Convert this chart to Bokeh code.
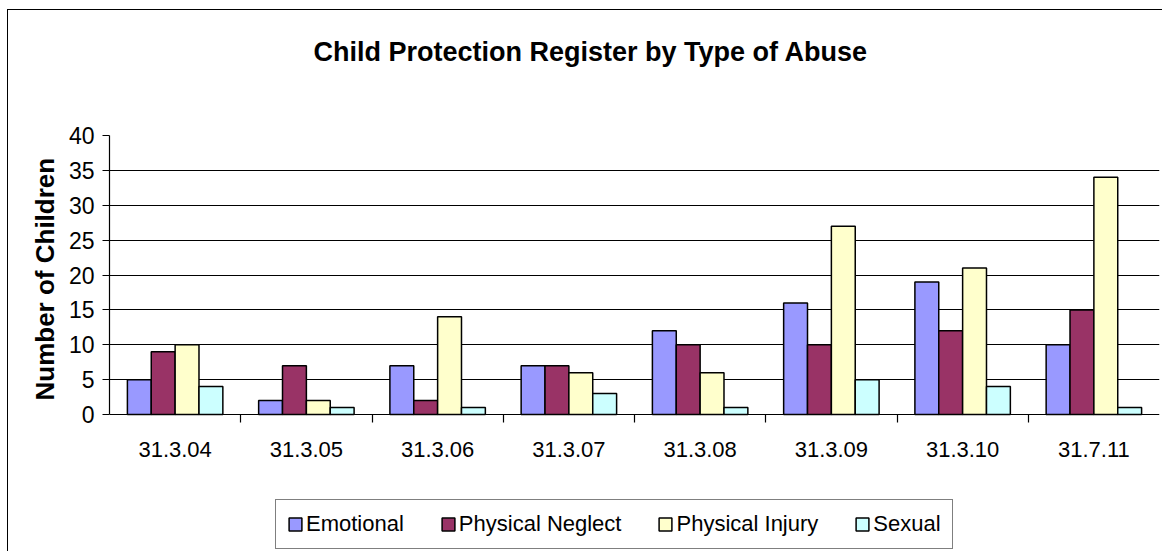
from bokeh.plotting import figure
from bokeh.models import (ColumnDataSource, Range1d, FixedTicker, Legend, LegendItem,
                          Grid, Title)
from bokeh.core.properties import value
from bokeh.transform import dodge
from bokeh.embed import file_html
from bokeh.resources import INLINE

categories = ["31.3.04", "31.3.05", "31.3.06", "31.3.07", "31.3.08", "31.3.09", "31.3.10", "31.7.11"]
emotional = [5, 2, 7, 7, 12, 16, 19, 10]
physical_neglect = [9, 7, 2, 7, 10, 10, 12, 15]
physical_injury = [10, 2, 14, 6, 6, 27, 21, 34]
sexual = [4, 1, 1, 3, 1, 5, 4, 1]
series_names = ["Emotional", "Physical Neglect", "Physical Injury", "Sexual"]
series_keys = ["emotional", "neglect", "injury", "sexual"]
colors = ["#9999FF", "#993366", "#FFFFCC", "#CCFFFF"]
y_ticks = [0, 5, 10, 15, 20, 25, 30, 35, 40]
Y_MAX = 40

SANS = "Liberation Sans"

# layout (pixels)
W, H = 1162, 551
PLOT_TOP, PLOT_BOTTOM = 135, 414          # value axis 40 .. 0
PX_PER_UNIT = (PLOT_BOTTOM - PLOT_TOP) / Y_MAX
y_low = -(H - PLOT_BOTTOM) / PX_PER_UNIT  # frame extends down to hold labels + legend
TICK_LEN = 8 / PX_PER_UNIT

n = len(categories)
src = ColumnDataSource(dict(
    x=[i + 0.5 for i in range(n)],
    cat=categories,
    emotional=emotional,
    neglect=physical_neglect,
    injury=physical_injury,
    sexual=sexual,
))

p = figure(width=W, height=H,
           x_range=Range1d(0, n), y_range=Range1d(y_low, Y_MAX),
           x_axis_location=None,
           output_backend="svg", toolbar_location=None,
           min_border_left=109, min_border_right=3,
           min_border_top=PLOT_TOP, min_border_bottom=0)
p.background_fill_color = "white"
p.border_fill_color = "white"
p.border_fill_alpha = 0
p.outline_line_color = None
p.styles = {
    "background": ("linear-gradient(#000, #000) 7px 9px / 1px 100% no-repeat, "
                   "linear-gradient(#000, #000) 7px 9px / 100% 1px no-repeat, white"),
}

# Title
p.title.text = "Child Protection Register by Type of Abuse\n"
p.title.align = "left"
p.title.offset = 204
p.title.standoff = 54
p.title.text_line_height = 1.4
p.title.text_font = SANS
p.title.text_font_style = "bold"
p.title.text_font_size = "27px"
p.title.text_color = "black"

# Grid lines (value axis) and top border of the plot area
for g in p.xgrid:
    g.visible = False
p.ygrid.ticker = FixedTicker(ticks=y_ticks[:-1])
p.ygrid.grid_line_color = "black"
p.ygrid.grid_line_width = 1.2
p.add_layout(Grid(dimension=1, ticker=FixedTicker(ticks=[Y_MAX]),
                  grid_line_color="#999999", grid_line_width=2))

# right border of the plot area and category separator ticks
boundaries = list(range(n + 1))
if "cross_bounds" in Grid.properties():
    p.add_layout(Grid(dimension=0, ticker=FixedTicker(ticks=[n]), cross_bounds=(0, Y_MAX),
                      grid_line_color="#999999", grid_line_width=2))
    p.add_layout(Grid(dimension=0, ticker=FixedTicker(ticks=boundaries),
                      cross_bounds=(-TICK_LEN, 0), grid_line_color="black",
                      grid_line_width=1.2))
else:
    p.segment(x0=[n], y0=[0], x1=[n], y1=[Y_MAX], line_color="#999999", line_width=2)
    p.segment(x0=boundaries, y0=[0] * len(boundaries), x1=boundaries,
              y1=[-TICK_LEN] * len(boundaries), line_color="black", line_width=1.2)

# Bars
group = 4 / 5.5  # fraction of each category taken by the bar group
bw = group / 4
renderers = []
for k, (key, name, col) in enumerate(zip(series_keys, series_names, colors)):
    off = (k - 1.5) * bw
    r = p.vbar(x=dodge("x", off, range=p.x_range), top=key, width=bw, source=src,
               fill_color=col, line_color="black", line_width=1.5)
    renderers.append((name, r))

# Category labels
p.text(x="x", y=0, text="cat", source=src, text_align="center", text_baseline="top",
       y_offset=27, text_font=value(SANS), text_font_size=value("22px"),
       text_color="black")

# Value axis
ya = p.yaxis[0]
ya.bounds = (0, Y_MAX)
ya.ticker = FixedTicker(ticks=y_ticks, minor_ticks=[])
ya.major_tick_out = 7
ya.major_tick_in = 0
ya.minor_tick_out = 0
ya.minor_tick_in = 0
ya.axis_line_color = "black"
ya.axis_line_width = 1.2
ya.major_tick_line_color = "black"
ya.major_label_standoff = 8
ya.major_label_text_font = SANS
ya.major_label_text_font_size = "23px"
ya.major_label_text_color = "black"

ytitle = Title(text="Number of Children", align="left", offset=H - 400, standoff=11,
               text_font=SANS, text_font_style="bold", text_font_size="26px",
               text_color="black")
p.add_layout(ytitle, "left")

# Legend
legend = Legend(items=[LegendItem(label=nm, renderers=[r]) for nm, r in renderers],
                orientation="horizontal", location=(166, 2))
legend.glyph_width = 16
legend.glyph_height = 16
legend.label_standoff = 3
legend.spacing = 36
legend.padding = 11
legend.margin = 0
legend.label_text_font = SANS
legend.label_text_font_size = "22px"
legend.label_text_color = "black"
legend.border_line_color = "black"
legend.border_line_width = 1
legend.background_fill_color = "white"
legend.background_fill_alpha = 1
p.add_layout(legend)

open("out.html", "w").write(file_html(p, INLINE))
